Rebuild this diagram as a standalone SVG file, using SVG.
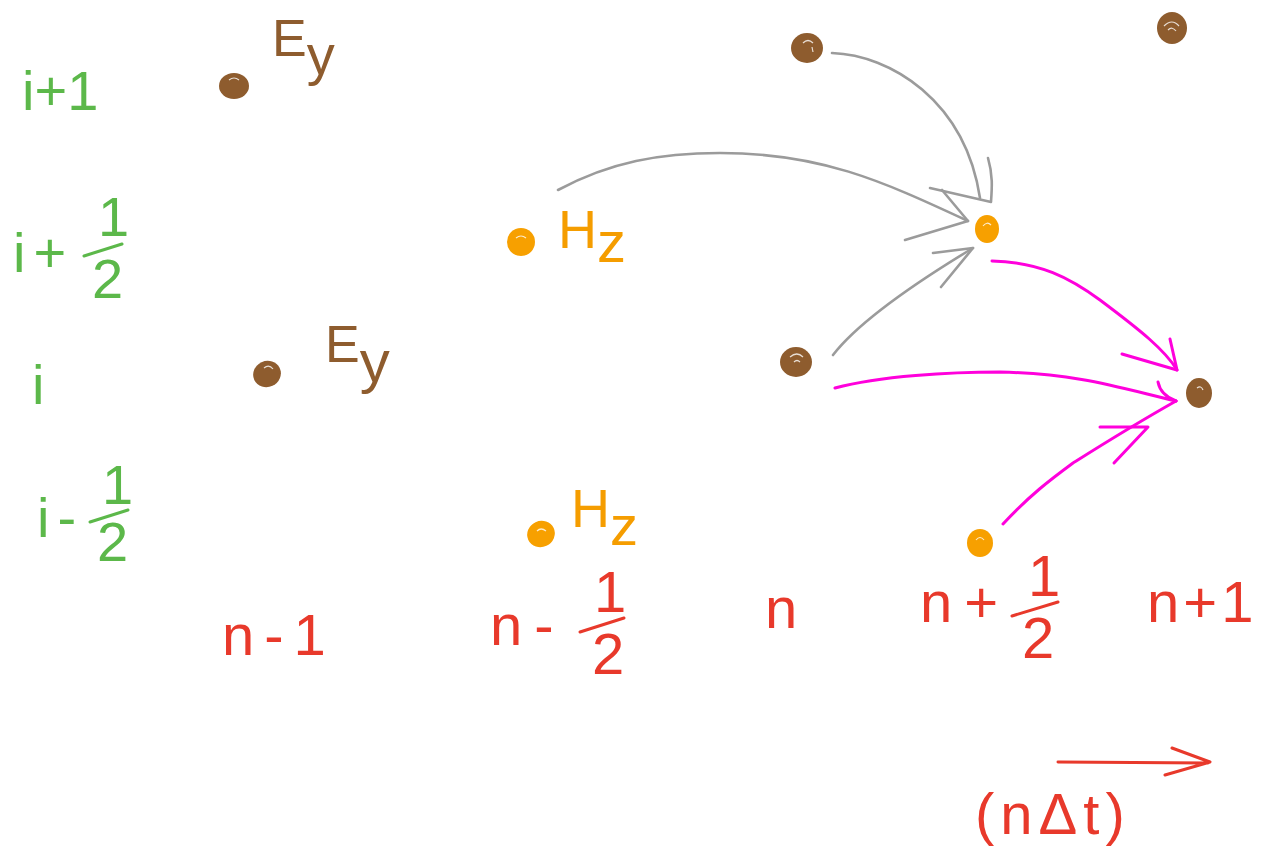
<svg xmlns="http://www.w3.org/2000/svg" width="1266" height="859" viewBox="0 0 1266 859">
<style>
.g{fill:#5cb84a;font-family:"Liberation Sans",Arial,sans-serif;font-size:56px}
.r{fill:#e8392b;font-family:"Liberation Sans",Arial,sans-serif;font-size:58px}
.b{fill:#8e5c2e;font-family:"Liberation Sans",Arial,sans-serif;font-size:52px}
.o{fill:#f59d00;font-family:"Liberation Sans",Arial,sans-serif;font-size:54px}
.dE{fill:#8e5c2e}
.dH{fill:#f7a000}
.hl{fill:none;stroke:#fff;stroke-width:1.2;opacity:.8}
.gr{fill:none;stroke:#9b9b9b;stroke-width:2.6;stroke-linecap:round;stroke-linejoin:round}
.mg{fill:none;stroke:#ff00dc;stroke-width:3;stroke-linecap:round;stroke-linejoin:round}
.rl{fill:none;stroke:#e8392b;stroke-width:3;stroke-linecap:round;stroke-linejoin:round}
.fb{stroke-width:3;stroke-linecap:round}
</style>
<rect width="1266" height="859" fill="#fff"/>

<g id="row-labels">
  <text class="g" x="22" y="110">i+1</text>
  <text class="g" x="13" y="272" letter-spacing="8">i+</text>
  <text class="g" font-size="30" x="98" y="236">1</text>
  <text class="g" font-size="42" x="92" y="298">2</text>
  <line x1="84" y1="256" x2="122" y2="244" stroke="#5cb84a" class="fb"/>
  <text class="g" x="32" y="404">i</text>
  <text class="g" x="37" y="537" letter-spacing="8">i-</text>
  <text class="g" font-size="30" x="102" y="504">1</text>
  <text class="g" font-size="42" x="97" y="561">2</text>
  <line x1="90" y1="522" x2="128" y2="510" stroke="#5cb84a" class="fb"/>
</g>

<g id="col-labels">
  <text class="r" x="222" y="655" letter-spacing="10">n-1</text>
  <text class="r" x="490" y="645" letter-spacing="12">n-</text>
  <text class="r" font-size="32" x="594" y="612">1</text>
  <text class="r" font-size="48" x="592" y="674">2</text>
  <line x1="580" y1="632" x2="624" y2="618" stroke="#e8392b" class="fb"/>
  <text class="r" x="765" y="628">n</text>
  <text class="r" x="920" y="622" letter-spacing="12">n+</text>
  <text class="r" font-size="32" x="1028" y="596">1</text>
  <text class="r" font-size="48" x="1022" y="658">2</text>
  <line x1="1012" y1="616" x2="1058" y2="602" stroke="#e8392b" class="fb"/>
  <text class="r" x="1147" y="622" letter-spacing="4">n+1</text>
</g>

<g id="time-axis">
  <path class="rl" d="M1058,762 L1208,763 M1172,748 L1210,762 L1165,775"/>
  <text class="r" x="975" y="834" font-size="70" letter-spacing="6">(nΔt)</text>
</g>

<g id="Ey-n-1-i+1">
  <ellipse class="dE" cx="234" cy="86" rx="15" ry="13"/>
  <path class="hl" d="M229,80 q5,-4 10,0"/>
  <text class="b" x="272" y="56">E<tspan dy="18" font-size="56">y</tspan></text>
</g>
<g id="Ey-n-1-i">
  <ellipse class="dE" cx="267" cy="374" rx="14" ry="13" transform="rotate(-25 267 374)"/>
  <path class="hl" d="M264,368 q5,-4 9,1"/>
  <text class="b" x="325" y="362" font-size="56">E<tspan dy="20" font-size="60">y</tspan></text>
</g>
<g id="Hz-n-half-i+half">
  <ellipse class="dH" cx="521" cy="242" rx="14" ry="14"/>
  <path class="hl" d="M516,238 q5,-4 10,0"/>
  <text class="o" x="558" y="248">H<tspan dy="14" font-size="58">z</tspan></text>
</g>
<g id="Hz-n-half-i-half">
  <ellipse class="dH" cx="541" cy="534" rx="14" ry="13" transform="rotate(-25 541 534)"/>
  <path class="hl" d="M537,531 q4,-4 9,0"/>
  <text class="o" x="571" y="527" font-size="50">H<tspan dy="18" font-size="56">z</tspan></text>
</g>
<g id="Ey-n-i+1">
  <ellipse class="dE" cx="807" cy="48" rx="16" ry="15"/>
  <path class="hl" d="M803,43 q5,-5 10,0 M812,47 l1,5"/>
</g>
<g id="Ey-n+1-i+1">
  <ellipse class="dE" cx="1172" cy="28" rx="15" ry="16"/>
  <path class="hl" d="M1164,26 q8,-8 15,0 M1168,30 q4,-4 8,1"/>
</g>
<g id="Hz-n+half-i+half">
  <ellipse class="dH" cx="987" cy="229" rx="12" ry="14"/>
  <path class="hl" d="M983,226 q4,-5 8,-1"/>
</g>
<g id="Ey-n-i">
  <ellipse class="dE" cx="796" cy="362" rx="16" ry="15"/>
  <path class="hl" d="M790,357 q7,-6 13,0 M794,362 q3,-3 6,0"/>
</g>
<g id="Ey-n+1-i">
  <ellipse class="dE" cx="1199" cy="393" rx="13" ry="15"/>
  <path class="hl" d="M1197,388 q4,-3 6,2"/>
</g>
<g id="Hz-n+half-i-half">
  <ellipse class="dH" cx="980" cy="543" rx="13" ry="14"/>
  <path class="hl" d="M976,540 q4,-5 8,0"/>
</g>

<g id="connectors">
  <path class="gr" d="M832,53 C890,55 965,100 980,198"/>
  <path class="gr" d="M988,158 C993,175 992,188 991,202 L930,188"/>
  <path class="gr" d="M558,190 C610,162 660,153 720,153 C820,153 880,180 968,221"/>
  <path class="gr" d="M942,190 L968,221 L905,240"/>
  <path class="gr" d="M833,355 C860,320 920,280 973,248"/>
  <path class="gr" d="M933,253 L973,248 L941,287"/>
  <path class="mg" d="M992,261 C1040,262 1070,278 1100,300 C1140,330 1165,350 1177,370"/>
  <path class="mg" d="M1170,339 L1177,370 L1122,354"/>
  <path class="mg" d="M835,388 C880,376 950,372 1000,372 C1080,374 1120,388 1176,401"/>
  <path class="mg" d="M1158,382 C1160,392 1168,398 1176,401"/>
  <path class="mg" d="M1003,524 C1030,495 1050,480 1073,463 C1100,446 1130,427 1176,401"/>
  <path class="mg" d="M1100,427 L1148,427 L1114,463"/>
</g>
</svg>
